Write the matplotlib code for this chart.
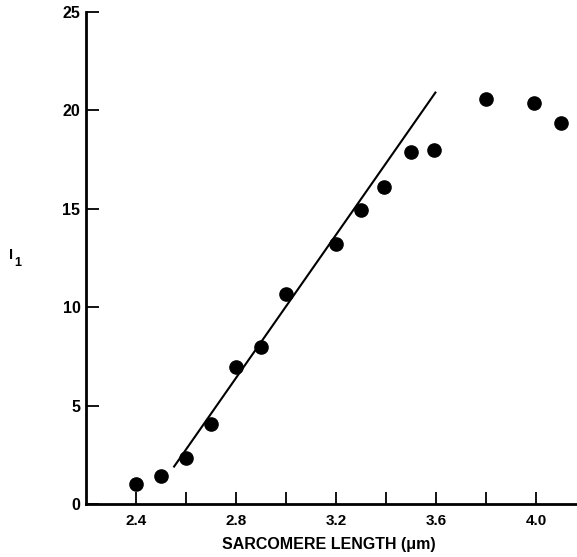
import matplotlib.pyplot as plt
import numpy as np

# sarcomere length (um) and I1 values
sl = [2.40, 2.50, 2.60, 2.70, 2.80, 2.90, 3.00, 3.20, 3.30, 3.39, 3.50, 3.59, 3.80, 3.99, 4.10]
i1 = [1.02, 1.44, 2.34, 4.08, 6.95, 7.98, 10.65, 13.2, 14.95, 16.1, 17.89, 17.99, 20.56, 20.39, 19.34]

# straight-line fit drawn on the figure (end points)
fit_x = [2.55, 3.60]
fit_y = [1.86, 20.95]

xticks = [2.4, 2.8, 3.2, 3.6, 4.0]
xminor = [2.6, 3.0, 3.4, 3.8]
yticks = [0, 5, 10, 15, 20, 25]

plt.rcParams['font.family'] = ['Liberation Sans', 'DejaVu Sans']

fig = plt.figure(figsize=(5.77, 5.57), dpi=100)
ax = fig.add_axes([86 / 577, 53 / 557, 491 / 577, 492 / 557])

ax.plot(fit_x, fit_y, color='black', lw=1.5, solid_capstyle='butt')
ax.plot(sl, i1, 'o', color='black', ms=9.5, mec='black')

ax.set_xlim(2.2, 2.2 + 491 / 250)
ax.set_ylim(0, 25)

ax.spines['top'].set_visible(False)
ax.spines['right'].set_visible(False)
for s in ('left', 'bottom'):
    ax.spines[s].set_linewidth(2)

ax.set_xticks(xticks)
ax.set_xticks(xminor, minor=True)
ax.set_yticks(yticks)
ax.set_xticklabels([f'{t:.1f}' for t in xticks], fontsize=11, fontweight='bold')
ax.set_yticklabels([str(t) for t in yticks], fontsize=11.5, fontweight='bold')
ax.tick_params(axis='both', which='both', direction='in', length=9, width=1.3, color='black')
ax.tick_params(axis='x', pad=7)
ax.tick_params(axis='y', pad=4)

fig.text(329 / 577, 1 - 545 / 557, 'SARCOMERE LENGTH (\u03bcm)', ha='center', va='center',
         fontsize=11.5, fontweight='bold')
fig.text(11 / 577, 1 - 255 / 557, 'I', ha='center', va='center', fontsize=10.5, fontweight='bold')
fig.text(17.5 / 577, 1 - 263 / 557, '1', ha='center', va='center', fontsize=9, fontweight='bold')

fig.savefig('out.png', dpi=100)
